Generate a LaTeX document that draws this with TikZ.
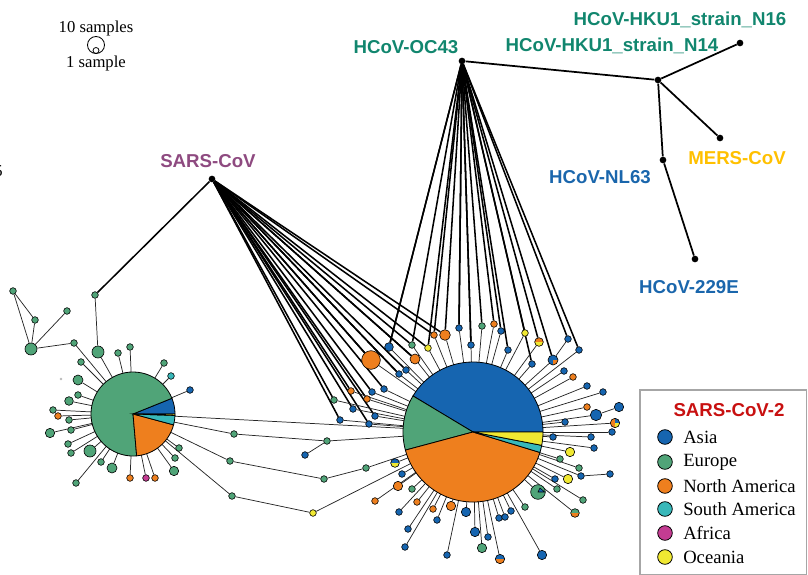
\documentclass[tikz,border=0pt]{standalone}
\usepackage{fontspec}
\setmainfont{Liberation Serif}
\newfontfamily\lsans{Liberation Sans}
\pgfdeclarelayer{edges}
\pgfdeclarelayer{pies}
\pgfsetlayers{edges,pies,main}
\definecolor{asia}{RGB}{22,101,176}
\definecolor{europe}{RGB}{80,164,120}
\definecolor{namer}{RGB}{238,127,30}
\definecolor{samer}{RGB}{56,184,186}
\definecolor{africa}{RGB}{196,60,146}
\definecolor{ocean}{RGB}{240,232,50}
\definecolor{occol}{RGB}{17,134,110}
\definecolor{sarscol}{RGB}{142,74,128}
\definecolor{nlcol}{RGB}{26,102,172}
\definecolor{merscol}{RGB}{255,192,0}
\definecolor{titlered}{RGB}{200,16,16}
\newcommand\pieslice[6]{\filldraw[fill=#6,draw=black,line width=0.6pt] (#1,#2) -- ++({#4}:#3) arc[start angle=#4,end angle=#5,radius=#3] -- cycle;}
\begin{document}
\begin{tikzpicture}[x=0.75pt,y=-0.75pt,
  sat/.style={circle,draw=black,line width=0.45pt,inner sep=0pt,minimum size=#1},
  sat/.default=5pt,
  tipdot/.style={circle,fill=black,inner sep=0pt,minimum size=5pt},
  heavy/.style={line width=1.15pt,black},
  spoke/.style={line width=0.55pt,black!85},
  treeline/.style={line width=1.3pt,black},
  vlab/.style={font=\lsans\bfseries\fontsize{14}{16}\selectfont,inner sep=0pt},
  legtxt/.style={font=\fontsize{14}{16}\selectfont,anchor=west,inner sep=0pt},
  legdot/.style={circle,draw=black,line width=0.6pt,inner sep=0pt,minimum size=11pt},
  half/.style 2 args={fill=#1,path picture={\fill[#2] (path picture bounding box.west) rectangle (path picture bounding box.south east);}},
]
\useasboundingbox (0,0) rectangle (808,575);

% ---------- size legend ----------
\node[font=\fontsize{12.5}{14}\selectfont,inner sep=0pt] (s10) at (96,28) {10 samples};
\node[circle,draw,line width=0.6pt,inner sep=0pt,minimum size=12.75pt] (bigc) at (96,45) {};
\node[circle,draw,line width=0.6pt,inner sep=0pt,minimum size=4.5pt] (smallc) at (96,50.5) {};
\node[font=\fontsize{12.5}{14}\selectfont,inner sep=0pt] (s1) at (96,63) {1 sample};
\node[font=\fontsize{12.5}{14}\selectfont,anchor=east,inner sep=0pt] (cut5) at (3,171) {5};

% ---------- reference viruses ----------
\node[tipdot] (sars) at (212,179) {};
\node[tipdot] (oc43) at (462,61) {};
\node[tipdot] (jn) at (658,80) {};
\node[tipdot] (n16) at (740,43) {};
\node[tipdot] (mers) at (720,138) {};
\node[tipdot] (nl63) at (663,160) {};
\node[tipdot] (e229) at (695,259) {};

\node[vlab,text=sarscol] (tsars) at (208,161) {SARS-CoV};
\node[vlab,text=occol] (toc43) at (406,47) {HCoV-OC43};
\node[vlab,text=occol] (tn16) at (680,20) {HCoV-HKU1\_strain\_N16};
\node[vlab,text=occol] (tn14) at (612,46) {HCoV-HKU1\_strain\_N14};
\node[vlab,text=merscol] (tmers) at (737,158) {MERS-CoV};
\node[vlab,text=nlcol] (tnl63) at (600,177) {HCoV-NL63};
\node[vlab,text=nlcol] (te229) at (689,287) {HCoV-229E};

\begin{pgfonlayer}{edges}
\draw[treeline] (oc43) -- (jn);
\draw[treeline] (jn) -- (n16);
\draw[treeline] (jn) -- (mers);
\draw[treeline] (jn) -- (nl63);
\draw[treeline] (nl63) -- (e229);
\end{pgfonlayer}

% ---------- pies ----------
\coordinate (BP) at (473,432);
\coordinate (LP) at (133,414);
\begin{pgfonlayer}{pies}
\pieslice{473}{432}{70}{0}{-149}{asia}
\pieslice{473}{432}{70}{-149}{-195}{europe}
\pieslice{473}{432}{70}{-195}{-343}{namer}
\pieslice{473}{432}{70}{-343}{-349}{samer}
\pieslice{473}{432}{70}{-349}{-360}{ocean}
\pieslice{133}{414}{42}{0}{-22}{asia}
\pieslice{133}{414}{42}{-22}{-275}{europe}
\pieslice{133}{414}{42}{-275}{-345}{namer}
\pieslice{133}{414}{42}{-345}{-358}{samer}
\pieslice{133}{414}{42}{-358}{-360}{ocean}
\end{pgfonlayer}

% ---------- satellites of the big pie ----------
\foreach \nn/\xx/\yy/\cc/\dd in {
 b1/459/328/asia/5pt, b2/482/326/europe/5pt, b3/494/324/namer/5pt, b4/501/331/asia/5pt,
 b5/445/335/namer/8pt, b6/434/335/namer/5pt, b7/471/345/asia/5pt, b8/525/333/ocean/5pt,
 b10/568/339/asia/5pt, b11/579/350/asia/5pt, b12/389/347/asia/6.5pt, b13/412/345/europe/5pt,
 b14/428/348/ocean/5pt, b15/415/359/namer/7.5pt, b16/371/360/namer/14pt, b17/508/350/asia/5pt,
 b19/532/364/asia/5pt, b20/564/371/asia/5pt, b21/573/377/namer/5pt, b22/399/374/asia/5pt,
 b23/406/370/asia/5pt, b24/384/389/asia/5pt, b25/372/392/asia/5pt, b26/351/391/namer/5pt,
 b27/367/399/namer/5pt, b28/334/400/europe/5pt, b29/353/409/asia/5pt, b30/375/416/asia/5pt,
 b31/340/420/asia/5pt, b32/369/424/asia/5pt, b33/587/386/asia/5pt, b34/603/392/asia/5pt,
 b35/587/407/namer/5pt, b36/596/415/asia/8.5pt, b37/619/407/asia/7pt, b39/565/422/asia/5pt,
 b40/612/432/asia/5pt, b41/553/437/asia/5pt, b42/591/437/asia/5pt, b43/594/448/asia/5pt,
 b44/570/452/ocean/7pt, b45/560/459/europe/5pt, b46/579/468/europe/5pt, b47/610/474/asia/5pt,
 b48/581/476/asia/5pt, b49/568/479/ocean/7pt, b50/555/479/asia/5pt, b51/557/489/europe/5pt,
 b53/583/500/europe/5pt, b55/327/441/europe/5pt, b56/305/455/asia/5pt, b57/324/479/europe/5pt,
 b58/366/468/europe/5pt, b60/402/474/asia/5pt, b61/398/486/namer/7pt, b62/412/489/europe/5pt,
 b63/375/501/namer/5pt, b64/417/502/namer/5pt, b65/399/512/asia/5pt, b66/433/509/namer/5pt,
 b67/451/506/namer/7pt, b68/437/520/asia/5pt, b69/408/529/asia/5pt, b70/466/512/asia/7pt,
 b71/475/532/asia/7pt, b72/488/537/asia/5pt, b73/405/547/asia/5pt, b74/447/555/asia/5pt,
 b75/482/548/europe/7pt, b77/542/555/asia/7pt, b78/499/518/asia/5pt, b79/505/517/asia/5pt,
 b80/511/511/asia/5pt, b81/525/507/europe/5pt, b82/313/513/ocean/5pt}
 {\node[sat=\dd,fill=\cc] (\nn) at (\xx,\yy) {};}
% mixed nodes
\node[sat=6.5pt,half={namer}{ocean}] (b9) at (539,342) {};
\node[sat=7.5pt,fill=asia,path picture={\fill[namer] (path picture bounding box.center) rectangle (path picture bounding box.south east);}] (b18) at (553,360) {};
\node[sat=7pt,fill=namer,path picture={\fill[asia] (path picture bounding box.center) rectangle (path picture bounding box.north east);\fill[ocean] (path picture bounding box.center) rectangle (path picture bounding box.south east);}] (b38) at (615,423) {};
\node[sat=11pt,fill=europe,path picture={\filldraw[fill=asia,draw=black,line width=0.4pt] (path picture bounding box.center) -- ([xshift=-0.5pt]path picture bounding box.east) -- ([xshift=1.5pt,yshift=3pt]path picture bounding box.center) -- cycle;}] (b52) at (538,492) {};
\node[sat=6.5pt,half={europe}{namer}] (b54) at (575,513) {};
\node[sat=6.5pt,half={asia}{ocean}] (b59) at (395,463) {};
\node[sat=7pt,half={asia}{namer}] (b76) at (500,559) {};

% ---------- satellites of the left pie ----------
\foreach \nn/\xx/\yy/\cc/\dd in {
 l1/118/353/europe/5pt, l2/130/347/europe/5pt, l3/164/363/europe/5pt, l4/171/376/samer/5pt,
 l5/190/390/asia/5pt, l6/81/362/europe/5pt, l7/78/380/europe/7.5pt, l8/78/395/europe/5pt,
 l9/69/401/europe/6.5pt, l10/53/410/europe/5pt, l11/58/416/namer/5pt, l12/69/420/europe/5pt,
 l13/50/433/europe/7pt, l14/71/430/europe/5pt, l15/68/444/europe/5pt, l16/71/453/europe/5pt,
 l17/90/451/europe/9pt, l18/101/462/europe/5pt, l19/112/468/europe/7.5pt, l20/76/483/europe/5pt,
 l21/130/478/namer/5pt, l22/146/478/africa/5pt, l23/155/478/namer/5pt, l24/174/471/europe/7pt,
 l25/175/458/europe/5pt, l26/179/448/europe/5pt, l27/98/352/europe/9pt, l28/95/295/europe/5pt,
 k1/13/291/europe/5pt, k2/35/320/europe/5pt, k3/31/349/europe/9pt, k4/67/311/europe/5pt,
 k5/74/343/europe/5pt, c1/234/434/europe/5pt, c2/230/461/europe/5pt, c3/232/496/europe/5pt}
 {\node[sat=\dd,fill=\cc] (\nn) at (\xx,\yy) {};}
\node[circle,fill=gray!55,inner sep=0pt,minimum size=2pt] (gdot) at (61,379) {};

% ---------- connectors ----------
\begin{pgfonlayer}{edges}
\foreach \nn in {b5,b6,b13,b14,b15,b16,b22,b23,b24,b25,b26,b27,b28,b29,b30,b31,b32,b15,b16,b22}
  \draw[heavy] (sars) -- (\nn);
\draw[heavy] (sars) -- (l28);
\foreach \nn in {b12,b13,b14,b6,b5,b1,b7,b2,b3,b4,b17,b8,b9,b19,b18,b11,b10,b12,b7,b1}
  \draw[heavy] (oc43) -- (\nn);
\foreach \nn in {b1,b2,b3,b4,b5,b6,b7,b8,b9,b11,b12,b13,b14,b15,b16,b17,b18,b19,b20,b21,b22,b23,b24,b25,b26,b27,b28,b29,b30,b31,b32,b33,b34,b35,b36,b38,b39,b40,b41,b42,b43,b44,b45,b46,b48,b49,b50,b51,b52,b53,b54,b55,b58,b59,b60,b61,b62,b63,b64,b65,b66,b67,b68,b69,b70,b71,b72,b73,b74,b75,b76,b77,b78,b79,b80,b81,b82}
  \draw[spoke] (\nn) -- (BP);
\draw[spoke] (b10) -- (b18);
\draw[spoke] (b37) -- (b36);
\draw[spoke] (b47) -- (b48);
\draw[spoke] (b56) -- (b55);
\draw[spoke] (b57) -- (b58);
\foreach \nn in {l1,l2,l3,l4,l5,l6,l7,l8,l9,l10,l11,l12,l13,l14,l15,l16,l17,l18,l19,l20,l21,l22,l23,l24,l25,l26,l27,k5}
  \draw[spoke] (\nn) -- (LP);
\draw[spoke] (l28) -- (l27);
\draw[spoke] (k1) -- (k2);
\draw[spoke] (k1) -- (k3);
\draw[spoke] (k2) -- (k3);
\draw[spoke] (k3) -- (k4);
\draw[spoke] (k3) -- (k5);
\draw[spoke] (LP) -- (BP);
\draw[spoke] (LP) -- (c1);
\draw[spoke] (c1) -- (b55);
\draw[spoke] (LP) -- (c2);
\draw[spoke] (c2) -- (b57);
\draw[spoke] (LP) -- (c3);
\draw[spoke] (c3) -- (b82);
\end{pgfonlayer}

% ---------- region legend ----------
\draw[gray!70,line width=0.8pt] (640,390) rectangle (806.5,574.5);
\node[font=\lsans\bfseries\fontsize{14}{16}\selectfont,text=titlered,inner sep=0pt] (legtitle) at (729,410) {SARS-CoV-2};
\foreach \yy/\cc/\lbl [count=\i] in {437/asia/Asia,462/europe/Europe,486/namer/North America,509/samer/South America,533/africa/Africa,557/ocean/Oceania}
{
  \node[legdot,fill=\cc] (ld\i) at (665,\yy) {};
  \node[legtxt] (lt\i) at (683,\yy) {\lbl};
}
\end{tikzpicture}
\end{document}
